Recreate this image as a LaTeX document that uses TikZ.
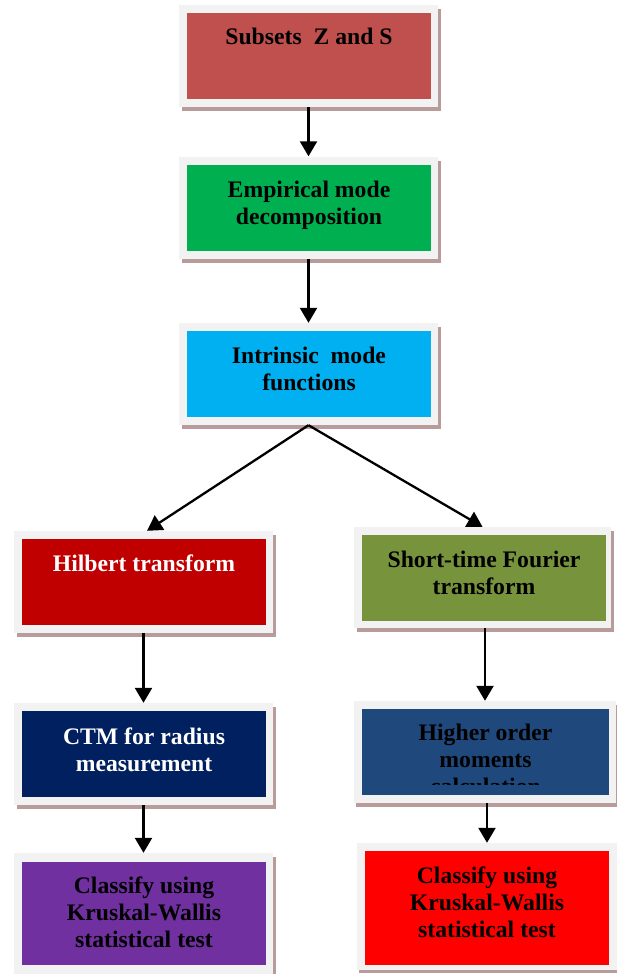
\documentclass[tikz,border=0pt]{standalone}
\usepackage{fontspec}
\setmainfont{Liberation Serif}
\usetikzlibrary{arrows.meta}
\definecolor{frameC}{HTML}{F2F2F2}
\definecolor{shadowC}{HTML}{B89C9C}
\definecolor{cA}{HTML}{C0504D}
\definecolor{cB}{HTML}{00B050}
\definecolor{cC}{HTML}{00B0F0}
\definecolor{cD}{HTML}{C00000}
\definecolor{cE}{HTML}{77933C}
\definecolor{cF}{HTML}{002060}
\definecolor{cG}{HTML}{1F497D}
\definecolor{cH}{HTML}{FF0000}
\definecolor{cI}{HTML}{7030A0}
\tikzset{
  frm/.style={fill=frameC, draw=none, inner sep=0pt, minimum width=259pt, minimum height=102pt},
  shd/.style={fill=shadowC, draw=none, inner sep=0pt, minimum width=259pt, minimum height=102pt},
  inr/.style={draw=none, inner sep=0pt, minimum width=244pt, minimum height=86pt},
  txt/.style={inner sep=0pt, anchor=base, font=\bfseries\fontsize{23.7}{27.4}\selectfont},
  arr/.style={line width=2.3pt, -{Triangle[width=17pt,length=15pt]}}
}
\newcommand{\tx}[1]{\parbox[t]{250pt}{\centering #1}}
\begin{document}
\begin{tikzpicture}[x=1pt,y=-1pt]
\useasboundingbox (0,0) rectangle (617,974);
% box 1
\node[shd] (s1) at (311,60) {};
\node[frm] (o1) at (308.5,56) {};
\node[inr, fill=cA] (i1) at (309,56) {};
\node[txt] (t1) at (309,45) {\tx{Subsets\ \ Z and S}};
% box 2
\node[shd] (s2) at (311,211.5) {};
\node[frm] (o2) at (308.5,207.5) {};
\node[inr, fill=cB] (i2) at (309,208) {};
\node[txt] (t2) at (309,197) {\tx{Empirical mode\\decomposition}};
% box 3
\node[shd] (s3) at (311,378) {};
\node[frm] (o3) at (308.5,374) {};
\node[inr, fill=cC] (i3) at (309,374) {};
\node[txt] (t3) at (309,363) {\tx{Intrinsic\ \ mode\\functions}};
% box 4
\node[shd] (s4) at (146,586) {};
\node[frm] (o4) at (143.5,582) {};
\node[inr, fill=cD] (i4) at (144,582) {};
\node[txt, text=white] (t4) at (144,571) {\tx{Hilbert transform}};
% box 5
\node[shd, minimum width=257pt, minimum height=101pt] (s5) at (485,581.5) {};
\node[frm, minimum width=257pt, minimum height=101pt] (o5) at (482.5,577.5) {};
\node[inr, fill=cE] (i5) at (484,578) {};
\node[txt] (t5) at (484,567) {\tx{Short-time Fourier\\transform}};
% box 6
\node[shd] (s6) at (146,758) {};
\node[frm] (o6) at (143.5,754) {};
\node[inr, fill=cF] (i6) at (144,754) {};
\node[txt, text=white] (t6) at (144,744) {\tx{CTM for radius\\measurement}};
% box 7
\node[shd, minimum width=262pt] (s7) at (487,756) {};
\node[frm, minimum width=262pt] (o7) at (485,752) {};
\node[inr, fill=cG, minimum width=247pt] (i7) at (485.5,752) {};
\begin{scope}
\clip (362,709) rectangle (609,784.5);
\node[txt] (t7) at (485.5,740) {\tx{Higher order\\moments\\calculation}};
\end{scope}
% box 8
\node[shd, minimum width=260pt, minimum height=127pt] (s8) at (489,909) {};
\node[frm, minimum width=260pt, minimum height=127pt] (o8) at (487,906.5) {};
\node[inr, fill=cH, minimum height=114pt] (i8) at (487,908) {};
\node[txt] (t8) at (487,883) {\tx{Classify using\\Kruskal-Wallis\\statistical test}};
% box 9
\node[shd, minimum height=124pt] (s9) at (146,919) {};
\node[frm, minimum height=124pt] (o9) at (143.5,915) {};
\node[inr, fill=cI, minimum height=103pt] (i9) at (144,913.5) {};
\node[txt] (t9) at (144,893) {\tx{Classify using\\Kruskal-Wallis\\statistical test}};
% arrows
\draw[arr] (o1.south) -- (o2.north);
\draw[arr] (o2.south) -- (o3.north);
\draw[arr] (o3.south) -- ([xshift=3.5pt]o4.north);
\draw[arr] (o3.south) -- (o5.north);
\draw[arr] (o4.south) -- (o6.north);
\draw[arr] (o5.south -| o7) -- (o7.north);
\draw[arr] (o6.south) -- (o9.north);
\draw[arr] (o7.south -| o8) -- (o8.north);
\end{tikzpicture}
\end{document}
